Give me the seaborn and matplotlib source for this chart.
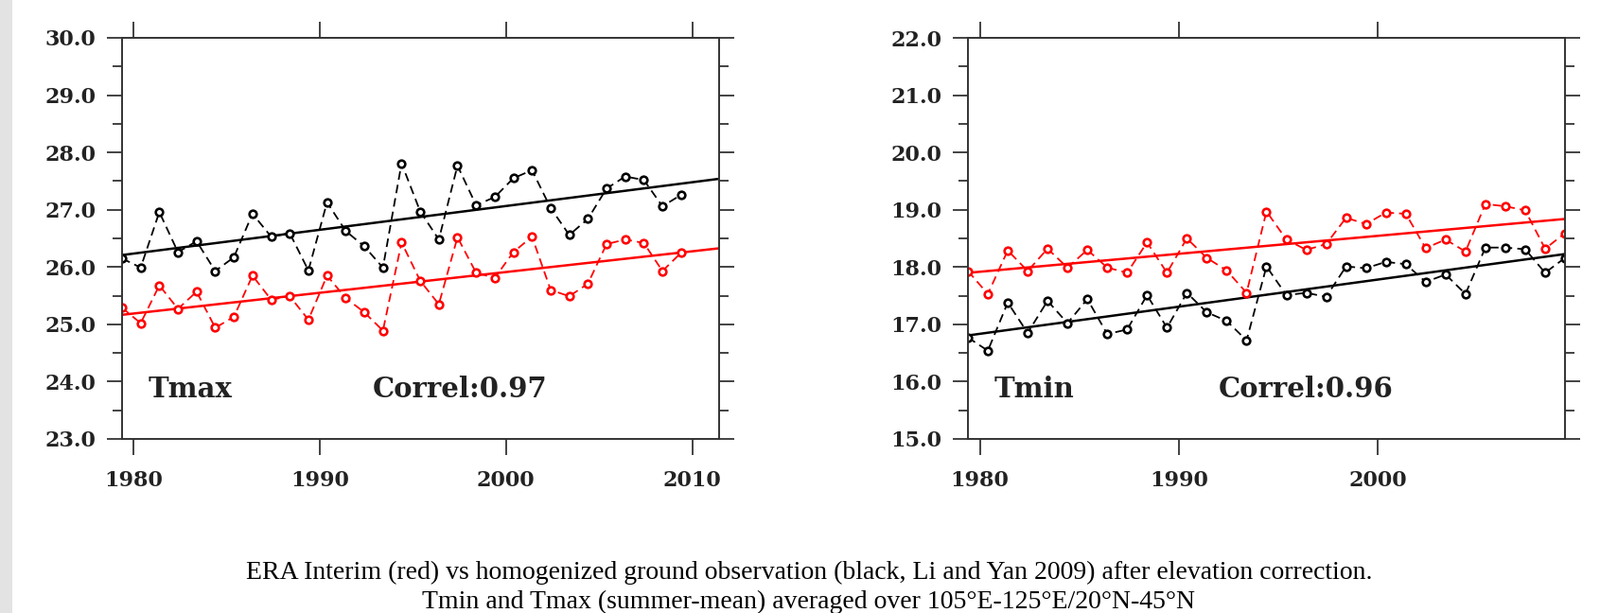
import numpy as np
import matplotlib
matplotlib.use("Agg")
import matplotlib.pyplot as plt
import seaborn as sns
from matplotlib.patches import Rectangle
from matplotlib.ticker import MultipleLocator, FormatStrFormatter, NullLocator, FixedLocator

# ---------------- data ----------------
years = list(range(1979, 2010))
summer_offset = 0.4  # summer-mean values are placed within the year

tmax_era = [25.29, 25.02, 25.68, 25.27, 25.57, 24.94, 25.13, 25.85, 25.43, 25.49,
            25.08, 25.85, 25.46, 25.21, 24.89, 26.43, 25.76, 25.35, 26.52, 25.90,
            25.81, 26.26, 26.53, 25.60, 25.49, 25.71, 26.40, 26.48, 26.42, 25.93,
            26.25]
tmax_obs = [26.15, 25.99, 26.96, 26.26, 26.45, 25.93, 26.17, 26.93, 26.53, 26.59,
            25.94, 27.13, 26.63, 26.36, 25.99, 27.81, 26.97, 26.48, 27.77, 27.08,
            27.22, 27.55, 27.69, 27.03, 26.56, 26.84, 27.37, 27.58, 27.52, 27.06,
            27.26]
tmin_era = [17.93, 17.53, 18.29, 17.93, 18.32, 17.99, 18.30, 17.99, 17.90, 18.43,
            17.90, 18.50, 18.16, 17.94, 17.55, 18.97, 18.48, 18.30, 18.40, 18.86,
            18.75, 18.95, 18.93, 18.33, 18.48, 18.27, 19.10, 19.06, 18.99, 18.32,
            18.59]
tmin_obs = [16.77, 16.54, 17.38, 16.85, 17.41, 17.02, 17.44, 16.83, 16.91, 17.51,
            16.94, 17.55, 17.21, 17.06, 16.72, 18.01, 17.51, 17.55, 17.48, 18.01,
            17.98, 18.09, 18.05, 17.74, 17.87, 17.53, 18.34, 18.34, 18.31, 17.90,
            18.16]

panel_names = ["Tmax", "Tmin"]
correlations = ["Correl:0.97", "Correl:0.96"]
x_tick_years = [1980, 1990, 2000, 2010]
caption_lines = [
    "ERA Interim (red) vs homogenized ground observation (black, Li and Yan 2009) after elevation correction.",
    "Tmin and Tmax (summer-mean) averaged over 105\u00b0E-125\u00b0E/20\u00b0N-45\u00b0N",
]

# ---------------- style ----------------
sns.set_style("ticks")
plt.rcParams["font.family"] = ["DejaVu Serif", "DejaVu Sans"]

W, H = 1691, 648
fig = plt.figure(figsize=(W / 100, H / 100), dpi=100)
fig.patch.set_facecolor("white")
# light grey slide margin on the far left
fig.add_artist(Rectangle((0, 0), 13 / W, 1, transform=fig.transFigure,
                         facecolor="#e3e3e3", edgecolor="none", zorder=0))

ax_w = 631 / W
ax_h = 424 / H
ax_b = (H - 464) / H
axL = fig.add_axes([129 / W, ax_b, ax_w, ax_h])
axR = fig.add_axes([1023 / W, ax_b, ax_w, ax_h])


def draw_panel(ax, obs, era, ylim, xmax, name, corr):
    x = np.array(years, dtype=float) + summer_offset
    ax.set_xlim(x[0], xmax)
    ax.set_ylim(*ylim)
    for vals, col in ((obs, "black"), (era, "red")):
        sns.regplot(x=x, y=np.array(vals), scatter=False, ci=None, truncate=False,
                    color=col, line_kws=dict(lw=1.8, solid_capstyle="butt"), ax=ax)
        sns.lineplot(x=x, y=np.array(vals), color=col, lw=1.3,
                     linestyle=(0, (5, 3)), marker="o", ms=5.5, mfc="white",
                     mec=col, mew=1.9, estimator=None, ax=ax)
    ax.set_xlim(x[0], xmax)
    ax.set_ylim(*ylim)

    ax.xaxis.set_major_locator(FixedLocator(x_tick_years))
    ax.xaxis.set_minor_locator(NullLocator())
    ax.yaxis.set_major_locator(MultipleLocator(1.0))
    ax.yaxis.set_minor_locator(MultipleLocator(0.5))
    ax.yaxis.set_major_formatter(FormatStrFormatter("%.1f"))
    ax.tick_params(axis="both", which="both", direction="out", top=True, right=True,
                   labeltop=False, labelright=False, colors="#222222")
    ax.tick_params(axis="y", which="major", length=11.3, width=1.2, pad=8.5,
                   labelsize=16)
    ax.tick_params(axis="y", which="minor", length=7.2, width=1.2)
    ax.tick_params(axis="x", which="major", length=12, width=1.2, pad=12,
                   labelsize=16)
    for lab in ax.get_xticklabels() + ax.get_yticklabels():
        lab.set_fontweight("bold")
        lab.set_color("#222222")
    for sp in ax.spines.values():
        sp.set_linewidth(1.4)
        sp.set_color("#333333")
        sp.set_visible(True)
    ax.set_xlabel("")
    ax.set_ylabel("")
    ax.text(0.043, 0.125, name, transform=ax.transAxes, fontsize=21,
            fontweight="bold", va="center", ha="left", color="#222222")
    ax.text(0.42, 0.125, corr, transform=ax.transAxes, fontsize=21,
            fontweight="bold", va="center", ha="left", color="#222222")


draw_panel(axL, tmax_obs, tmax_era, (23, 30), 2011.44, panel_names[0], correlations[0])
draw_panel(axR, tmin_obs, tmin_era, (15, 22), 2009.4, panel_names[1], correlations[1])

fig.text(855 / W, 1 - 605 / H, caption_lines[0], ha="center", va="center",
         family=["Liberation Serif", "DejaVu Serif"], fontsize=20, color="black")
fig.text(855 / W, 1 - 636 / H, caption_lines[1], ha="center", va="center",
         family=["Liberation Serif", "DejaVu Serif"], fontsize=20, color="black")

fig.savefig("out.png", dpi=100, facecolor="white")
